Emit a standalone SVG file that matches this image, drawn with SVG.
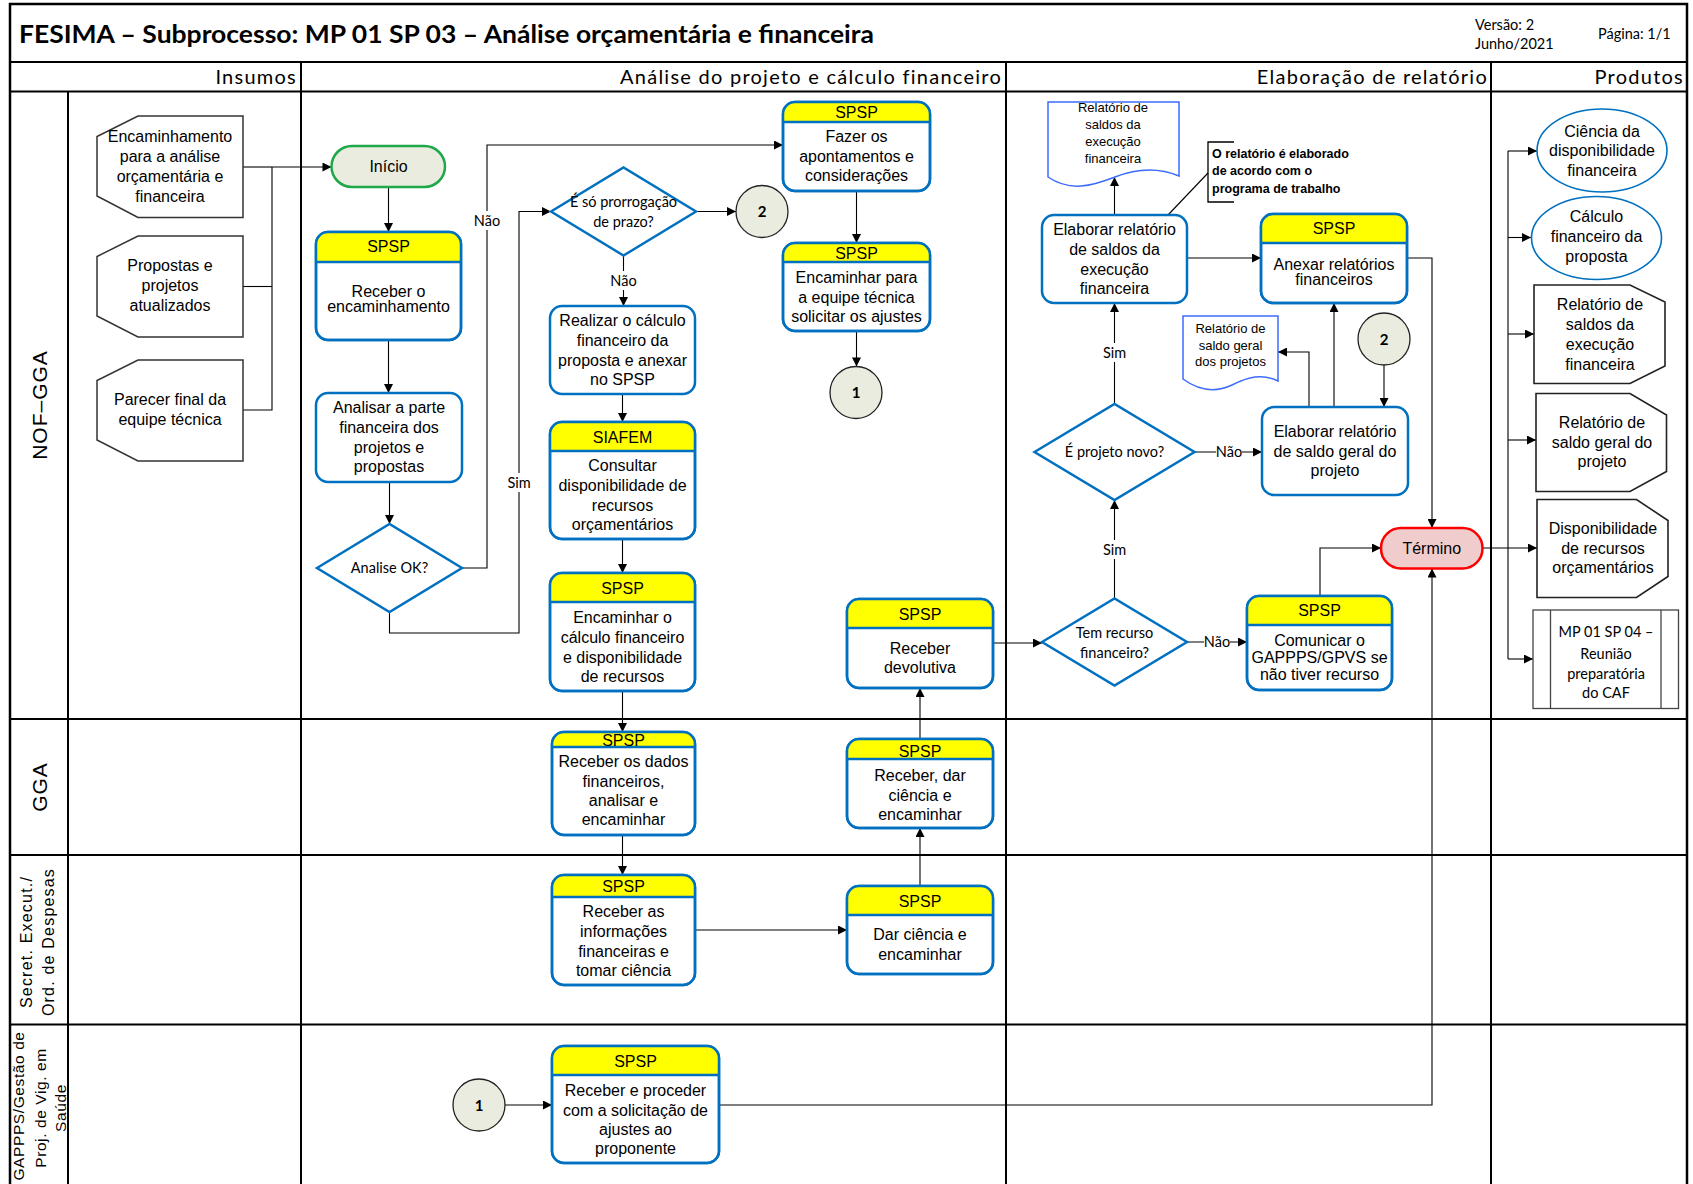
<svg xmlns="http://www.w3.org/2000/svg" width="1693" height="1184" viewBox="0 0 1693 1184">
  <defs>
    <marker id="arr" viewBox="0 0 10 10" refX="10" refY="5" markerWidth="10" markerHeight="9" markerUnits="userSpaceOnUse" orient="auto">
      <path d="M0,0 L10,5 L0,10 Z" fill="#000"/>
    </marker>
    <style>
      .frame{fill:none;stroke:#000;stroke-width:2.5}
      .grid{stroke:#000;stroke-width:2;fill:none}
      .bx{fill:#fff;stroke:#0070c0;stroke-width:2.5}
      .ol{fill:none;stroke:#0070c0;stroke-width:2.5}
      .hd{fill:#ffff00;stroke:none}
      .hl{stroke:#0070c0;stroke-width:2.5}
      .dm{fill:#fff;stroke:#0070c0;stroke-width:2.5}
      .doc{fill:#fff;stroke:#3d6bff;stroke-width:1.5}
      .inp{fill:#fff;stroke:#333;stroke-width:1.5}
      .prd{fill:#fff;stroke:#222;stroke-width:1.6}
      .ell{fill:#fff;stroke:#0070c0;stroke-width:1.6}
      .cir{fill:#e9ecdf;stroke:#222;stroke-width:1.3}
      .conn{fill:none;stroke:#000;stroke-width:1.1}
      .arw{marker-end:url(#arr)}
      .lblbg{fill:#fff}
      .t{font-family:"Liberation Sans",Arial,sans-serif;font-size:16px;fill:#000;text-anchor:middle}
      .ts{font-family:"Liberation Sans",Arial,sans-serif;font-size:13px;fill:#000;text-anchor:middle}
      .c{font-family:Lato,"Liberation Sans",sans-serif;font-size:14.5px;fill:#000;text-anchor:middle}
      .cb{font-family:Lato,"Liberation Sans",sans-serif;font-size:15px;font-weight:bold;fill:#000;text-anchor:middle}
      .hdr{font-family:Lato,"Liberation Sans",sans-serif;font-size:20px;letter-spacing:1.25px;fill:#000;text-anchor:end}
      .lane{font-family:"Liberation Sans",Arial,sans-serif;fill:#000;text-anchor:middle}
      .note{font-family:"Liberation Sans",Arial,sans-serif;font-size:12.5px;font-weight:bold;fill:#000}
    </style>
  </defs>

  <rect width="1693" height="1184" fill="#fff"/>

  <!-- Frame, header row and swimlane grid -->
  <g id="grid">
    <rect class="frame" x="10" y="4" width="1677" height="1190"/>
    <line class="grid" x1="10" y1="62" x2="1687" y2="62"/>
    <line class="grid" x1="10" y1="91.5" x2="1687" y2="91.5"/>
    <line class="grid" x1="301" y1="62" x2="301" y2="1190"/>
    <line class="grid" x1="1006" y1="62" x2="1006" y2="1190"/>
    <line class="grid" x1="1491" y1="62" x2="1491" y2="1190"/>
    <line class="grid" x1="68" y1="91.5" x2="68" y2="1190"/>
    <line class="grid" x1="10" y1="719" x2="1687" y2="719"/>
    <line class="grid" x1="10" y1="855" x2="1687" y2="855"/>
    <line class="grid" x1="10" y1="1024.5" x2="1687" y2="1024.5"/>
  </g>

  <g id="title">
    <text x="19" y="43" font-family="Lato,'Liberation Sans',sans-serif" font-size="24" font-weight="bold" textLength="855" lengthAdjust="spacingAndGlyphs">FESIMA – Subprocesso: MP 01 SP 03 – Análise orçamentária e financeira</text>
    <text x="1475" y="30" font-family="Lato,'Liberation Sans',sans-serif" font-size="14.5">Versão: 2</text>
    <text x="1475" y="49" font-family="Lato,'Liberation Sans',sans-serif" font-size="14.5">Junho/2021</text>
    <text x="1598" y="39" font-family="Lato,'Liberation Sans',sans-serif" font-size="14.5">Página: 1/1</text>
  </g>

  <g id="column-headers">
    <text class="hdr" x="297" y="84">Insumos</text>
    <text class="hdr" x="1002" y="84">Análise do projeto e cálculo financeiro</text>
    <text class="hdr" x="1488" y="84">Elaboração de relatório</text>
    <text class="hdr" x="1684" y="84">Produtos</text>
  </g>

  <g id="lane-labels">
    <text class="lane" font-size="21" letter-spacing="1" transform="translate(47,405) rotate(-90)">NOF–GGA</text>
    <text class="lane" font-size="21" letter-spacing="1" transform="translate(47,787) rotate(-90)">GGA</text>
    <text class="lane" font-size="16" letter-spacing="1.2" transform="translate(32,942) rotate(-90)">Secret.  Execut./</text>
    <text class="lane" font-size="16" letter-spacing="1.2" transform="translate(54,942) rotate(-90)">Ord. de Despesas</text>
    <text class="lane" font-size="15.5" letter-spacing="0.6" transform="translate(24,1106) rotate(-90)">GAPPPS/Gestão de</text>
    <text class="lane" font-size="15.5" letter-spacing="0.6" transform="translate(46,1108) rotate(-90)">Proj. de Vig. em</text>
    <text class="lane" font-size="15.5" letter-spacing="0.6" transform="translate(66,1108) rotate(-90)">Saúde</text>
  </g>

  <!-- Connectors -->
  <g id="connectors">
    <polyline class="conn" points="243,167 272,167"/>
    <polyline class="conn" points="243,286.5 272,286.5"/>
    <polyline class="conn" points="243,410 272,410 272,167"/>
    <polyline class="conn arw" points="272,167 331.5,167"/>
    <polyline class="conn arw" points="388.5,187 388.5,232"/>
    <polyline class="conn arw" points="388.5,340 388.5,393"/>
    <polyline class="conn arw" points="389.5,482 389.5,524"/>
    <polyline class="conn arw" points="462,568 487,568 487,145 783,145"/>
    <polyline class="conn arw" points="389.5,612 389.5,633 519,633 519,211.5 551,211.5"/>
    <polyline class="conn arw" points="696,211.5 736,211.5"/>
    <polyline class="conn arw" points="623.5,255.5 623.5,306"/>
    <polyline class="conn arw" points="622.5,394 622.5,422"/>
    <polyline class="conn arw" points="622.5,539 622.5,573"/>
    <polyline class="conn arw" points="622.5,691 622.5,732"/>
    <polyline class="conn arw" points="622.5,835 622.5,875"/>
    <polyline class="conn arw" points="695,930 847,930"/>
    <polyline class="conn arw" points="920,886 920,828"/>
    <polyline class="conn arw" points="920,739 920,688"/>
    <polyline class="conn arw" points="856.5,191 856.5,243"/>
    <polyline class="conn arw" points="856.5,331 856.5,366.5"/>
    <polyline class="conn arw" points="993,643 1042,643"/>
    <polyline class="conn arw" points="1187,642 1247,642"/>
    <polyline class="conn arw" points="1320,596 1320,548 1381,548"/>
    <polyline class="conn arw" points="1114.5,598.5 1114.5,500"/>
    <polyline class="conn arw" points="1114.5,404 1114.5,303"/>
    <polyline class="conn arw" points="1194.5,452 1262,452"/>
    <polyline class="conn arw" points="1114.5,215 1114.5,177"/>
    <polyline class="conn arw" points="1187,258 1261,258"/>
    <polyline class="conn arw" points="1407,258 1432,258 1432,528"/>
    <polyline class="conn arw" points="1384,365 1384,407"/>
    <polyline class="conn arw" points="1334,407 1334,303"/>
    <polyline class="conn arw" points="1309,407 1309,352 1278,352"/>
    <polyline class="conn arw" points="505,1105 552,1105"/>
    <polyline class="conn arw" points="719,1105 1432,1105 1432,568.5"/>
    <polyline class="conn arw" points="1482.5,548 1537,548"/>
    <polyline class="conn" points="1508,548 1508,151 1508,659"/>
    <polyline class="conn arw" points="1508,151 1537,151"/>
    <polyline class="conn arw" points="1508,237.5 1531,237.5"/>
    <polyline class="conn arw" points="1508,334 1534,334"/>
    <polyline class="conn arw" points="1508,440 1536,440"/>
    <polyline class="conn arw" points="1508,659 1533,659"/>
    <line class="conn" x1="1208" y1="173" x2="1168" y2="215"/>

    <!-- branch labels -->
    <rect class="lblbg" x="475" y="211" width="24" height="19"/>
    <text class="c" x="487" y="226">Não</text>
    <rect class="lblbg" x="508" y="473" width="22" height="19"/>
    <text class="c" x="519" y="488">Sim</text>
    <rect class="lblbg" x="611" y="271" width="25" height="19"/>
    <text class="c" x="623.5" y="286">Não</text>
    <rect class="lblbg" x="1103" y="343" width="23" height="19"/>
    <text class="c" x="1114.5" y="358">Sim</text>
    <rect class="lblbg" x="1103" y="540" width="23" height="19"/>
    <text class="c" x="1114.5" y="555">Sim</text>
    <rect class="lblbg" x="1216" y="444" width="26" height="16"/>
    <text class="c" x="1229" y="457">Não</text>
    <rect class="lblbg" x="1204" y="634" width="26" height="16"/>
    <text class="c" x="1217" y="647">Não</text>
  </g>

  <!-- Inputs -->
  <g id="in-encaminhamento">
    <polygon class="inp" points="138,116 243,116 243,217.5 138,217.5 97,196 97,136.5"/>
    <text class="t" x="170" y="142">Encaminhamento</text>
    <text class="t" x="170" y="162">para a análise</text>
    <text class="t" x="170" y="182">orçamentária e</text>
    <text class="t" x="170" y="202">financeira</text>
  </g>
  <g id="in-propostas">
    <polygon class="inp" points="138,236 243,236 243,337 138,337 97,316 97,256.5"/>
    <text class="t" x="170" y="271">Propostas e</text>
    <text class="t" x="170" y="291">projetos</text>
    <text class="t" x="170" y="311">atualizados</text>
  </g>
  <g id="in-parecer">
    <polygon class="inp" points="138,360 243,360 243,461 138,461 97,440 97,380.5"/>
    <text class="t" x="170" y="405">Parecer final da</text>
    <text class="t" x="170" y="425">equipe técnica</text>
  </g>

  <!-- Análise do projeto e cálculo financeiro -->
  <g id="inicio">
    <rect x="331.5" y="146" width="113.5" height="41" rx="20.5" fill="#e9ecdf" stroke="#1fa84a" stroke-width="2.5"/>
    <text class="t" x="388.5" y="172">Início</text>
  </g>
  <g id="receber-encaminhamento">
    <rect class="bx" x="316" y="232" width="145" height="108" rx="12"/>
    <path class="hd" d="M316,262 V244 Q316,232 328,232 H449 Q461,232 461,244 V262 Z"/>
    <line class="hl" x1="316" y1="262" x2="461" y2="262"/>
    <rect class="ol" x="316" y="232" width="145" height="108" rx="12"/>
    <text class="t" x="388.5" y="252">SPSP</text>
    <text class="t" x="388.5" y="297">Receber o</text>
    <text class="t" x="388.5" y="312">encaminhamento</text>
  </g>
  <g id="analisar-parte">
    <rect class="bx" x="316" y="393" width="146" height="89" rx="12"/>
    <text class="t" x="389" y="413">Analisar a parte</text>
    <text class="t" x="389" y="433">financeira dos</text>
    <text class="t" x="389" y="453">projetos e</text>
    <text class="t" x="389" y="472">propostas</text>
  </g>
  <g id="analise-ok">
    <polygon class="dm" points="317,568 389.5,524 462,568 389.5,612"/>
    <text class="c" x="389.5" y="573">Analise OK?</text>
  </g>
  <g id="so-prorrogacao">
    <polygon class="dm" points="551,211.5 623.5,167.5 696,211.5 623.5,255.5"/>
    <text class="c" x="623.5" y="207">É só prorrogação</text>
    <text class="c" x="623.5" y="227">de prazo?</text>
  </g>
  <g id="conector-2a">
    <circle class="cir" cx="762" cy="211.5" r="26"/>
    <text class="cb" x="762" y="217">2</text>
  </g>
  <g id="realizar-calculo">
    <rect class="bx" x="550" y="306" width="145" height="88" rx="12"/>
    <text class="t" x="622.5" y="326">Realizar o cálculo</text>
    <text class="t" x="622.5" y="346">financeiro da</text>
    <text class="t" x="622.5" y="365.5">proposta e anexar</text>
    <text class="t" x="622.5" y="385">no SPSP</text>
  </g>
  <g id="consultar-disponibilidade">
    <rect class="bx" x="550" y="422" width="145" height="117" rx="12"/>
    <path class="hd" d="M550,451 V434 Q550,422 562,422 H683 Q695,422 695,434 V451 Z"/>
    <line class="hl" x1="550" y1="451" x2="695" y2="451"/>
    <rect class="ol" x="550" y="422" width="145" height="117" rx="12"/>
    <text class="t" x="622.5" y="443">SIAFEM</text>
    <text class="t" x="622.5" y="471">Consultar</text>
    <text class="t" x="622.5" y="491">disponibilidade de</text>
    <text class="t" x="622.5" y="511">recursos</text>
    <text class="t" x="622.5" y="530">orçamentários</text>
  </g>
  <g id="encaminhar-calculo">
    <rect class="bx" x="550" y="573" width="145" height="118" rx="12"/>
    <path class="hd" d="M550,602 V585 Q550,573 562,573 H683 Q695,573 695,585 V602 Z"/>
    <line class="hl" x1="550" y1="602" x2="695" y2="602"/>
    <rect class="ol" x="550" y="573" width="145" height="118" rx="12"/>
    <text class="t" x="622.5" y="594">SPSP</text>
    <text class="t" x="622.5" y="623">Encaminhar o</text>
    <text class="t" x="622.5" y="643">cálculo financeiro</text>
    <text class="t" x="622.5" y="663">e disponibilidade</text>
    <text class="t" x="622.5" y="682">de recursos</text>
  </g>
  <g id="fazer-apontamentos">
    <rect class="bx" x="783" y="102" width="147" height="89" rx="12"/>
    <path class="hd" d="M783,122 V114 Q783,102 795,102 H918 Q930,102 930,114 V122 Z"/>
    <line class="hl" x1="783" y1="122" x2="930" y2="122"/>
    <rect class="ol" x="783" y="102" width="147" height="89" rx="12"/>
    <text class="t" x="856.5" y="118">SPSP</text>
    <text class="t" x="856.5" y="142">Fazer os</text>
    <text class="t" x="856.5" y="162">apontamentos e</text>
    <text class="t" x="856.5" y="181">considerações</text>
  </g>
  <g id="encaminhar-equipe">
    <rect class="bx" x="783" y="243" width="147" height="88" rx="12"/>
    <path class="hd" d="M783,262 V255 Q783,243 795,243 H918 Q930,243 930,255 V262 Z"/>
    <line class="hl" x1="783" y1="262" x2="930" y2="262"/>
    <rect class="ol" x="783" y="243" width="147" height="88" rx="12"/>
    <text class="t" x="856.5" y="258.5">SPSP</text>
    <text class="t" x="856.5" y="283">Encaminhar para</text>
    <text class="t" x="856.5" y="303">a equipe técnica</text>
    <text class="t" x="856.5" y="322">solicitar os ajustes</text>
  </g>
  <g id="conector-1a">
    <circle class="cir" cx="856" cy="392.5" r="26"/>
    <text class="cb" x="856" y="398">1</text>
  </g>
  <g id="receber-devolutiva">
    <rect class="bx" x="847" y="599" width="146" height="89" rx="12"/>
    <path class="hd" d="M847,628 V611 Q847,599 859,599 H981 Q993,599 993,611 V628 Z"/>
    <line class="hl" x1="847" y1="628" x2="993" y2="628"/>
    <rect class="ol" x="847" y="599" width="146" height="89" rx="12"/>
    <text class="t" x="920" y="620">SPSP</text>
    <text class="t" x="920" y="654">Receber</text>
    <text class="t" x="920" y="673">devolutiva</text>
  </g>

  <!-- GGA -->
  <g id="receber-dados">
    <rect class="bx" x="552" y="732" width="143" height="103" rx="12"/>
    <path class="hd" d="M552,747 V744 Q552,732 564,732 H683 Q695,732 695,744 V747 Z"/>
    <line class="hl" x1="552" y1="747" x2="695" y2="747"/>
    <rect class="ol" x="552" y="732" width="143" height="103" rx="12"/>
    <text class="t" x="623.5" y="746">SPSP</text>
    <text class="t" x="623.5" y="767">Receber os dados</text>
    <text class="t" x="623.5" y="787">financeiros,</text>
    <text class="t" x="623.5" y="806">analisar e</text>
    <text class="t" x="623.5" y="825">encaminhar</text>
  </g>
  <g id="receber-dar-ciencia">
    <rect class="bx" x="847" y="739" width="146" height="89" rx="12"/>
    <path class="hd" d="M847,759 V751 Q847,739 859,739 H981 Q993,739 993,751 V759 Z"/>
    <line class="hl" x1="847" y1="759" x2="993" y2="759"/>
    <rect class="ol" x="847" y="739" width="146" height="89" rx="12"/>
    <text class="t" x="920" y="757">SPSP</text>
    <text class="t" x="920" y="781">Receber, dar</text>
    <text class="t" x="920" y="801">ciência e</text>
    <text class="t" x="920" y="820">encaminhar</text>
  </g>

  <!-- Secret. Execut. / Ord. de Despesas -->
  <g id="receber-informacoes">
    <rect class="bx" x="552" y="875" width="143" height="110" rx="12"/>
    <path class="hd" d="M552,897 V887 Q552,875 564,875 H683 Q695,875 695,887 V897 Z"/>
    <line class="hl" x1="552" y1="897" x2="695" y2="897"/>
    <rect class="ol" x="552" y="875" width="143" height="110" rx="12"/>
    <text class="t" x="623.5" y="892">SPSP</text>
    <text class="t" x="623.5" y="917">Receber as</text>
    <text class="t" x="623.5" y="937">informações</text>
    <text class="t" x="623.5" y="957">financeiras e</text>
    <text class="t" x="623.5" y="976">tomar ciência</text>
  </g>
  <g id="dar-ciencia">
    <rect class="bx" x="847" y="886" width="146" height="88" rx="12"/>
    <path class="hd" d="M847,915 V898 Q847,886 859,886 H981 Q993,886 993,898 V915 Z"/>
    <line class="hl" x1="847" y1="915" x2="993" y2="915"/>
    <rect class="ol" x="847" y="886" width="146" height="88" rx="12"/>
    <text class="t" x="920" y="907">SPSP</text>
    <text class="t" x="920" y="940">Dar ciência e</text>
    <text class="t" x="920" y="960">encaminhar</text>
  </g>

  <!-- GAPPPS -->
  <g id="conector-1b">
    <circle class="cir" cx="479" cy="1105" r="26"/>
    <text class="cb" x="479" y="1110.5">1</text>
  </g>
  <g id="receber-proceder">
    <rect class="bx" x="552" y="1046" width="167" height="117" rx="12"/>
    <path class="hd" d="M552,1075 V1058 Q552,1046 564,1046 H707 Q719,1046 719,1058 V1075 Z"/>
    <line class="hl" x1="552" y1="1075" x2="719" y2="1075"/>
    <rect class="ol" x="552" y="1046" width="167" height="117" rx="12"/>
    <text class="t" x="635.5" y="1067">SPSP</text>
    <text class="t" x="635.5" y="1096">Receber e proceder</text>
    <text class="t" x="635.5" y="1116">com a solicitação de</text>
    <text class="t" x="635.5" y="1135">ajustes ao</text>
    <text class="t" x="635.5" y="1154">proponente</text>
  </g>

  <!-- Elaboração de relatório -->
  <g id="doc-saldos-execucao">
    <path class="doc" d="M1048,102 H1179 V176 C1160,168 1138,168 1115,177 C1092,186 1070,192 1048,177 Z"/>
    <text class="ts" x="1113" y="112">Relatório de</text>
    <text class="ts" x="1113" y="129">saldos da</text>
    <text class="ts" x="1113" y="146">execução</text>
    <text class="ts" x="1113" y="163">financeira</text>
  </g>
  <g id="nota-programa">
    <polyline fill="none" stroke="#000" stroke-width="1.3" points="1234,142 1208,142 1208,202 1234,202"/>
    <text class="note" x="1212" y="158">O relatório é elaborado</text>
    <text class="note" x="1212" y="175">de acordo com o</text>
    <text class="note" x="1212" y="193">programa de trabalho</text>
  </g>
  <g id="elaborar-saldos">
    <rect class="bx" x="1042" y="215" width="145" height="88" rx="12"/>
    <text class="t" x="1114.5" y="235">Elaborar relatório</text>
    <text class="t" x="1114.5" y="255">de saldos da</text>
    <text class="t" x="1114.5" y="274.5">execução</text>
    <text class="t" x="1114.5" y="294">financeira</text>
  </g>
  <g id="anexar-relatorios">
    <rect class="bx" x="1261" y="214" width="146" height="89" rx="12"/>
    <path class="hd" d="M1261,243 V226 Q1261,214 1273,214 H1395 Q1407,214 1407,226 V243 Z"/>
    <line class="hl" x1="1261" y1="243" x2="1407" y2="243"/>
    <rect class="ol" x="1261" y="214" width="146" height="89" rx="12"/>
    <text class="t" x="1334" y="234">SPSP</text>
    <text class="t" x="1334" y="270">Anexar relatórios</text>
    <text class="t" x="1334" y="284.5">financeiros</text>
  </g>
  <g id="doc-saldo-geral">
    <path class="doc" d="M1183,316 H1278 V381 C1262,373 1248,377 1232,385 C1215,393 1198,390 1183,379 Z"/>
    <text class="ts" x="1230.5" y="333">Relatório de</text>
    <text class="ts" x="1230.5" y="350">saldo geral</text>
    <text class="ts" x="1230.5" y="366">dos projetos</text>
  </g>
  <g id="conector-2b">
    <circle class="cir" cx="1384" cy="339" r="26"/>
    <text class="cb" x="1384" y="344.5">2</text>
  </g>
  <g id="projeto-novo">
    <polygon class="dm" points="1034.5,452 1114.5,404 1194.5,452 1114.5,500"/>
    <text class="c" x="1114.5" y="457" font-size="15">É projeto novo?</text>
  </g>
  <g id="elaborar-saldo-geral">
    <rect class="bx" x="1262" y="407" width="146" height="88" rx="12"/>
    <text class="t" x="1335" y="437">Elaborar relatório</text>
    <text class="t" x="1335" y="457">de saldo geral do</text>
    <text class="t" x="1335" y="476">projeto</text>
  </g>
  <g id="tem-recurso">
    <polygon class="dm" points="1042,642 1114.5,598.5 1187,642 1114.5,685.5"/>
    <text class="c" x="1114.5" y="637.5" font-size="15">Tem recurso</text>
    <text class="c" x="1114.5" y="657.5" font-size="15">financeiro?</text>
  </g>
  <g id="comunicar">
    <rect class="bx" x="1247" y="596" width="145" height="94" rx="12"/>
    <path class="hd" d="M1247,625 V608 Q1247,596 1259,596 H1380 Q1392,596 1392,608 V625 Z"/>
    <line class="hl" x1="1247" y1="625" x2="1392" y2="625"/>
    <rect class="ol" x="1247" y="596" width="145" height="94" rx="12"/>
    <text class="t" x="1319.5" y="616" font-size="14">SPSP</text>
    <text class="t" x="1319.5" y="646" font-size="12.5">Comunicar o</text>
    <text class="t" x="1319.5" y="663" font-size="12.5">GAPPPS/GPVS se</text>
    <text class="t" x="1319.5" y="680" font-size="12.5">não tiver recurso</text>
  </g>
  <g id="termino">
    <rect x="1381" y="528" width="101.5" height="40.5" rx="20" fill="#f0cccc" stroke="#ff0000" stroke-width="2.5"/>
    <text class="t" x="1431.75" y="554">Término</text>
  </g>

  <!-- Produtos -->
  <g id="prod-ciencia">
    <ellipse class="ell" cx="1602" cy="150.5" rx="65" ry="41.5"/>
    <text class="t" x="1602" y="136.5">Ciência da</text>
    <text class="t" x="1602" y="156">disponibilidade</text>
    <text class="t" x="1602" y="176">financeira</text>
  </g>
  <g id="prod-calculo">
    <ellipse class="ell" cx="1596.5" cy="238" rx="65" ry="41.5"/>
    <text class="t" x="1596.5" y="222">Cálculo</text>
    <text class="t" x="1596.5" y="242">financeiro da</text>
    <text class="t" x="1596.5" y="262">proposta</text>
  </g>
  <g id="prod-saldos-execucao">
    <polygon class="prd" points="1534,285 1630,285 1665,302 1665,366 1630,383.5 1534,383.5"/>
    <text class="t" x="1600" y="310">Relatório de</text>
    <text class="t" x="1600" y="329.5">saldos da</text>
    <text class="t" x="1600" y="349.5">execução</text>
    <text class="t" x="1600" y="369.5">financeira</text>
  </g>
  <g id="prod-saldo-geral">
    <polygon class="prd" points="1536,393.5 1630,393.5 1666.5,415 1666.5,471.5 1630,491.5 1536,491.5"/>
    <text class="t" x="1602" y="427.5">Relatório de</text>
    <text class="t" x="1602" y="447.5">saldo geral do</text>
    <text class="t" x="1602" y="467">projeto</text>
  </g>
  <g id="prod-disponibilidade">
    <polygon class="prd" points="1537,499.5 1636.5,499.5 1668,520.5 1668,576.5 1636.5,597.5 1537,597.5"/>
    <text class="t" x="1603" y="533.5">Disponibilidade</text>
    <text class="t" x="1603" y="553.5">de recursos</text>
    <text class="t" x="1603" y="573">orçamentários</text>
  </g>
  <g id="prod-mp01sp04">
    <rect x="1533" y="610" width="145.5" height="98.5" fill="#fff" stroke="#444" stroke-width="1.3"/>
    <line x1="1550.5" y1="610" x2="1550.5" y2="708.5" stroke="#444" stroke-width="1.3"/>
    <line x1="1661" y1="610" x2="1661" y2="708.5" stroke="#444" stroke-width="1.3"/>
    <text class="c" x="1606" y="637" font-size="14">MP 01 SP 04  –</text>
    <text class="c" x="1606" y="658.5" font-size="14">Reunião</text>
    <text class="c" x="1606" y="678.5" font-size="14">preparatória</text>
    <text class="c" x="1606" y="697.5" font-size="14">do CAF</text>
  </g>
</svg>
